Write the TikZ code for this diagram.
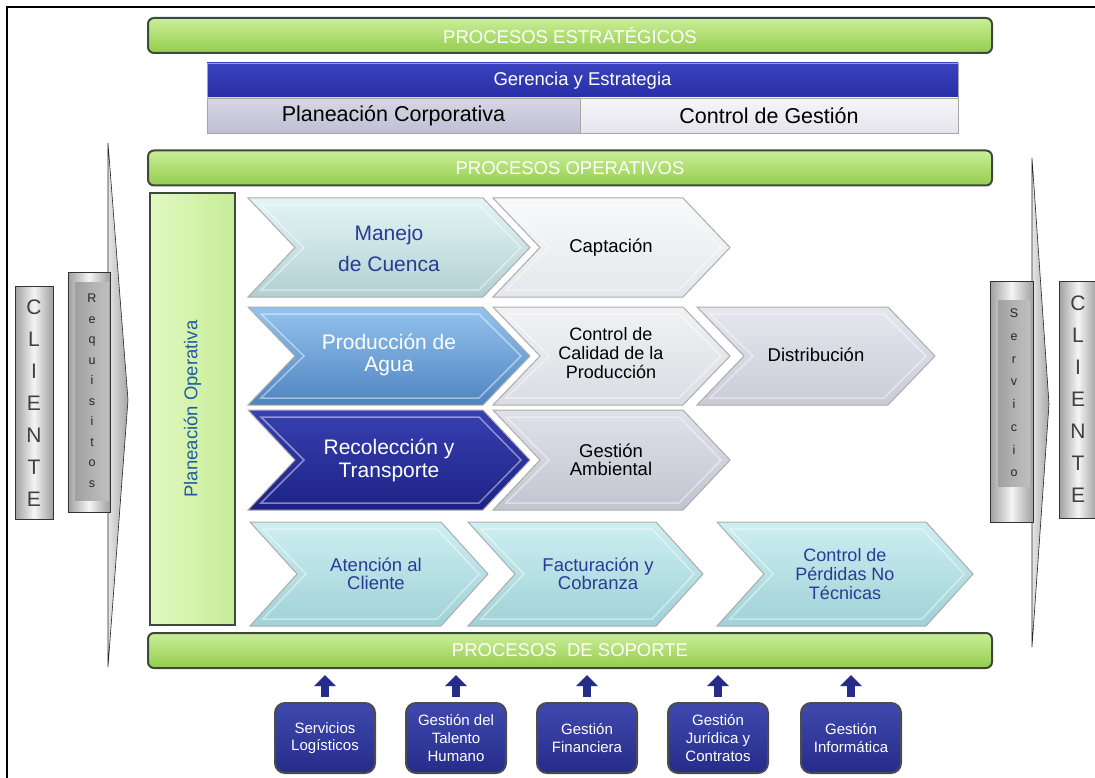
\documentclass[tikz,border=0pt]{standalone}
\usepackage{fontspec}
\setmainfont{Liberation Sans}
\usetikzlibrary{arrows.meta}

\definecolor{barA}{HTML}{CBEE98}
\definecolor{barB}{HTML}{93CD4C}
\definecolor{barEdge}{HTML}{3C4A3E}
\definecolor{gerA}{HTML}{3A42BE}
\definecolor{gerB}{HTML}{272EA6}
\definecolor{corpA}{HTML}{D6D6E6}
\definecolor{corpB}{HTML}{BFC0D4}
\definecolor{gestA}{HTML}{F6F6F9}
\definecolor{gestB}{HTML}{E4E4EC}
\definecolor{opA}{HTML}{E2F9C2}
\definecolor{opB}{HTML}{C6EC96}
\definecolor{opText}{HTML}{1F5C9E}
\definecolor{procText}{HTML}{2B3A94}
\definecolor{cyA}{HTML}{E4F5F6}
\definecolor{cyB}{HTML}{B2D0D1}
\definecolor{capA}{HTML}{F8F9FA}
\definecolor{capB}{HTML}{E4E7EB}
\definecolor{prA}{HTML}{94C3EE}
\definecolor{prB}{HTML}{4F84C0}
\definecolor{calA}{HTML}{F1F2F4}
\definecolor{calB}{HTML}{D9DCE2}
\definecolor{disA}{HTML}{E6E7EE}
\definecolor{disB}{HTML}{C9CBD7}
\definecolor{recA}{HTML}{3840B2}
\definecolor{recB}{HTML}{1C2284}
\definecolor{ambA}{HTML}{E0E1E9}
\definecolor{ambB}{HTML}{C2C4D0}
\definecolor{atA}{HTML}{CDEFF2}
\definecolor{atB}{HTML}{9FD1D6}
\definecolor{supA}{HTML}{4049AE}
\definecolor{supB}{HTML}{252C8A}

\newcommand{\fsz}[2]{\fontsize{#1}{#2}\selectfont}
\newcommand{\chevron}[5]{%
  \draw[#5] (#1,#2) -- ({#3-47},#2) -- (#3,{(#2+#4)/2}) -- ({#3-47},#4)
    -- (#1,#4) -- ({#1+47},{(#2+#4)/2}) -- cycle;
  \draw[white, opacity=.45, line width=1.5pt] ({#1+13},{#2+7}) -- ({#3-51},{#2+7})
    -- ({#3-9},{(#2+#4)/2}) -- ({#3-51},{#4-7}) -- ({#1+13},{#4-7})
    -- ({#1+56},{(#2+#4)/2}) -- cycle;}

\begin{document}
\begin{tikzpicture}[x=1pt,y=-1pt,
    greenbar/.style={draw=barEdge, line width=2pt, rounded corners=6pt,
      top color=barA, bottom color=barB, text=white, font=\fsz{18.5}{20},
      minimum width=844pt, minimum height=35pt, inner sep=0pt},
    topbox/.style={draw=gray!70, line width=.8pt, minimum height=35pt, inner sep=0pt},
    chev/.style={draw=gray!65, line width=1pt},
    lbl/.style={align=center, inner sep=0pt},
    sidebox/.style={draw=black!80, line width=.8pt, left color=gray!75,
      right color=gray!75, middle color=gray!8, inner sep=0pt},
    letters/.style={align=center, inner sep=0pt, text=black!75},
    thinarrow/.style={draw=black!85, line width=.6pt, left color=gray!20, right color=gray!70},
    supbox/.style={draw=black!70, line width=2pt, rounded corners=10pt,
      top color=supA, bottom color=supB, text=white, align=center,
      font=\fsz{15}{17.7}, minimum width=100pt, minimum height=70pt, inner sep=0pt},
    uparr/.style={draw=supB, line width=8pt, -{Triangle[length=11pt,width=21pt]},
      shorten <=5pt, shorten >=6pt}]
\useasboundingbox (0,0) rectangle (1095,778);
\draw[line width=2pt] (7,778) -- (7,7) -- (1095,7);

% strategic level
\node[greenbar] (estrat) at (570,35.5) {PROCESOS ESTRAT\'EGICOS};
\node[topbox, minimum width=751pt, top color=gerA, bottom color=gerB, text=white,
  font=\fsz{18.5}{20}] (gerencia) at (582.5,80.5) {Gerencia y Estrategia};
\node[topbox, minimum width=373pt, top color=corpA, bottom color=corpB,
  font=\fsz{21.5}{23}] (corp) at (393.5,115.5) {Planeaci\'on Corporativa};
\node[topbox, minimum width=378pt, top color=gestA, bottom color=gestB,
  font=\fsz{21.5}{23}] (gestion) at (769,115.5) {Control de Gesti\'on};

% operative level
\node[greenbar] (operat) at (570,168) {PROCESOS OPERATIVOS};
\node[draw=barEdge, line width=1.5pt, left color=opA, right color=opB, rotate=90,
  minimum width=432pt, minimum height=85pt, text=opText, font=\fsz{18.5}{20}]
  (planop) at (192.5,409) {Planeaci\'on Operativa};

\chevron{248}{198}{530}{297}{chev, top color=cyA, bottom color=cyB}
\chevron{493}{198}{730}{297}{chev, top color=capA, bottom color=capB}
\chevron{248}{307}{530}{405}{chev, top color=prA, bottom color=prB}
\chevron{493}{307}{730}{405}{chev, top color=calA, bottom color=calB}
\chevron{697}{307}{935}{405}{chev, top color=disA, bottom color=disB}
\chevron{248}{410}{530}{510}{chev, top color=recA, bottom color=recB}
\chevron{493}{410}{730}{510}{chev, top color=ambA, bottom color=ambB}
\chevron{250}{522}{488}{626}{chev, top color=atA, bottom color=atB}
\chevron{468}{522}{703}{626}{chev, top color=atA, bottom color=atB}
\chevron{717}{522}{973}{626}{chev, top color=atA, bottom color=atB}

\node[lbl, text=procText, font=\fsz{21}{31}] (manejo) at (389,248) {Manejo\\de Cuenca};
\node[lbl, font=\fsz{18.5}{20}] (captacion) at (611,247.5) {Captaci\'on};
\node[lbl, text=white, font=\fsz{21}{21.7}] (produccion) at (389,355) {Producci\'on de\\Agua};
\node[lbl, font=\fsz{18}{18.7}] (calidad) at (611,353) {Control de\\Calidad de la\\Producci\'on};
\node[lbl, font=\fsz{18.5}{20}] (distrib) at (816,355) {Distribuci\'on};
\node[lbl, text=white, font=\fsz{21}{23}] (recoleccion) at (389,460) {Recolecci\'on y\\Transporte};
\node[lbl, font=\fsz{18.5}{18.3}] (ambiental) at (611,460) {Gesti\'on\\Ambiental};
\node[lbl, text=procText, font=\fsz{18.5}{18.5}] (atencion) at (376,574) {Atenci\'on al\\Cliente};
\node[lbl, text=procText, font=\fsz{18.5}{18.5}] (factura) at (598,574) {Facturaci\'on y\\Cobranza};
\node[lbl, text=procText, font=\fsz{18}{18.7}] (perdidas) at (845,574) {Control de\\P\'erdidas No\\T\'ecnicas};

% client side
\draw[thinarrow] (108,143) -- (128,400) -- (108,667) -- cycle;
\node[sidebox, minimum width=42pt, minimum height=240pt] (reqbox) at (89,392) {};
\node[sidebox, left color=gray!75, right color=gray!50, middle color=gray!60,
  draw=none, minimum width=34pt, minimum height=218pt] (reqin) at (92,391) {};
\node[letters, text=black!85, font=\fsz{12.5}{20.5}] (requisitos) at (reqin) {R\\e\\q\\u\\i\\s\\i\\t\\o\\s};
\draw[thinarrow] (1032,158) -- (1049,404) -- (1032,647) -- cycle;
\node[sidebox, minimum width=43pt, minimum height=241pt] (servbox) at (1011.5,401.5) {};
\node[sidebox, left color=gray!75, right color=gray!50, middle color=gray!60,
  draw=none, minimum width=32pt, minimum height=186pt] (servin) at (1014,393) {};
\node[letters, text=black!85, font=\fsz{12.5}{22.7}] (servicio) at (servin) {S\\e\\r\\v\\i\\c\\i\\o};
\node[sidebox, minimum width=38pt, minimum height=233pt] (cliente) at (34,403) {};
\node[letters, font=\fsz{21}{32}] at (cliente) {C\\L\\I\\E\\N\\T\\E};
\node[sidebox, minimum width=38pt, minimum height=237pt] (cliente2) at (1078,399.5) {};
\node[letters, font=\fsz{21}{32}] at (cliente2) {C\\L\\I\\E\\N\\T\\E};

% support level
\node[greenbar] (soporte) at (570,650.5) {PROCESOS\ \ DE SOPORTE};
\node[supbox] (logist) at (325,738) {Servicios\\Log\'isticos};
\node[supbox] (talento) at (456,738) {Gesti\'on del\\Talento\\Humano};
\node[supbox] (finan) at (587,738) {Gesti\'on\\Financiera};
\node[supbox] (juridica) at (718,738) {Gesti\'on\\Jur\'idica y\\Contratos};
\node[supbox] (informat) at (851,738) {Gesti\'on\\Inform\'atica};
\foreach \n in {logist,talento,finan,juridica,informat}
  \draw[uparr] (\n.north) -- (\n.north |- soporte.south);
\end{tikzpicture}
\end{document}
